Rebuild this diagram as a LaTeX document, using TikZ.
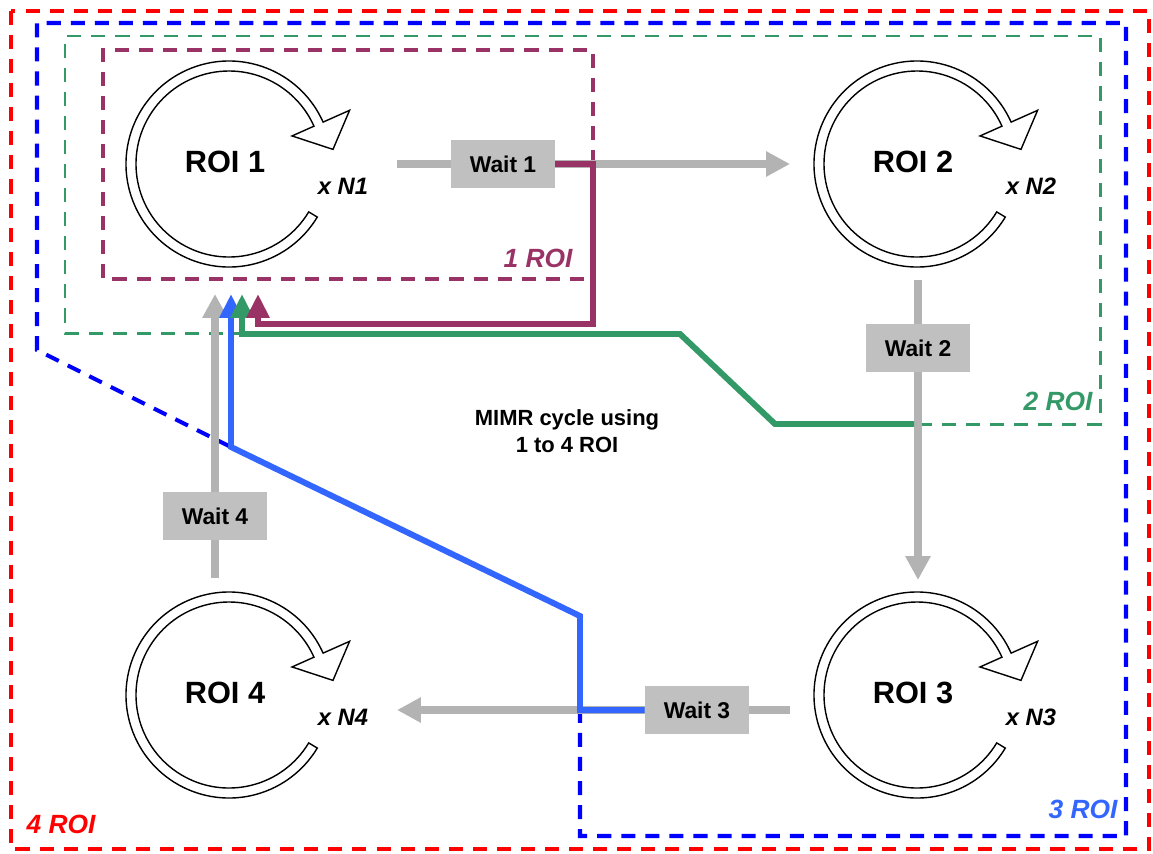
\documentclass[tikz,border=0pt]{standalone}
\usepackage{fontspec}
\setmainfont{Liberation Sans}
\usetikzlibrary{arrows.meta}
\definecolor{roipurple}{HTML}{993366}
\definecolor{roigreen}{HTML}{339966}
\definecolor{roiblue}{HTML}{3366FF}
\definecolor{zoneblue}{HTML}{0000FF}
\definecolor{flowgray}{HTML}{B3B3B3}
\definecolor{boxgray}{HTML}{C0C0C0}
\tikzset{
  roi/.style={font=\fontsize{17.5}{20}\selectfont\bfseries},
  nlabel/.style={font=\fontsize{13.5}{16}\selectfont\bfseries\itshape},
  zlabel/.style={font=\fontsize{15}{18}\selectfont\bfseries\itshape},
  wait/.style={fill=boxgray, minimum width=2.08cm, minimum height=0.96cm,
    inner sep=0pt, font=\fontsize{13}{15}\selectfont\bfseries},
  flow/.style={draw=flowgray, line width=4.5pt, >={Triangle[width=13.6pt,length=13.6pt]}},
  cycle path/.style={line width=3.4pt, >={Triangle[width=12.5pt,length=13.6pt]}},
  zone/.style={line width=#1, dash pattern=on 8pt off 5.7pt},
  roiloop/.pic={
    \draw[line width=0.8pt, fill=white] (31:93) arc[start angle=31, end angle=336, radius=93]
      -- (336:69) -- (352:105) -- (336:132) -- (336:103)
      arc[start angle=336, end angle=31, radius=103] -- cycle;
  }
}

\begin{document}
\begin{tikzpicture}[x=0.02cm, y=-0.02cm]
\useasboundingbox (0,0) rectangle (1153,853);

% zones
\coordinate (j1) at (593,164);
\coordinate (j2) at (918,424);
\coordinate (j3) at (580,710);
\coordinate (j4) at (231,447);
\draw[zone=2.8pt, red] (11,11) rectangle (1149,849);
\draw[zone=2.3pt, zoneblue] (j4) -- (37,350) -- (37,23) -- (1126,23) -- (1126,836) -- (580,836) -- (j3);
\draw[zone=1.7pt, roigreen] (j2) -- (1100,424) -- (1100,36) -- (65,36) -- (65,333) -- (242,333);
\draw[zone=2.5pt, roipurple] (j1) -- (593,50) -- (103,50) -- (103,279) -- (593,279);

% wait boxes
\node[wait] (w1) at (503,164) {Wait 1};
\node[wait] (w2) at (918,348) {Wait 2};
\node[wait] (w3) at (697,710) {Wait 3};
\node[wait] (w4) at (215,516) {Wait 4};

% main cycle
\coordinate (a1) at (397,164); \coordinate (b1) at (790,164);
\coordinate (a2) at (918,280); \coordinate (b2) at (918,580);
\coordinate (a3) at (790,710); \coordinate (b3) at (397,710);
\coordinate (a4) at (215,578); \coordinate (b4) at (215,294);
\foreach \i in {1,...,4} {
  \draw[flow] (a\i) -- (w\i);
  \draw[flow,->] (w\i) -- (b\i);
}

% shortcuts back to ROI 1
\draw[cycle path, roiblue, ->] (w3.west) -- (j3) -- (580,616) -- (j4) -- (231,294);
\draw[cycle path, roigreen, ->] (914,424) -- (775,424) -- (680,334) -- (242,334) -- (242,294);
\draw[cycle path, roipurple, ->] (w1.east) -- (j1) -- (593,324) -- (258,324) -- (258,294);

% ROIs
\foreach \i/\x/\y in {1/229/164, 2/917/164, 3/917/695, 4/229/695} {
  \pic at (\x,\y) {roiloop};
  \node[roi] (roi\i) at (\x-4,\y-2) {ROI \i};
  \node[nlabel] (n\i) at (\x+114,\y+22) {x N\i};
}

\node[font=\fontsize{12.5}{15}\selectfont\bfseries, align=center] (title) at (567,431)
  {MIMR cycle using\\1 to 4 ROI};
\node[zlabel, text=roipurple] (z1) at (538,258) {1 ROI};
\node[zlabel, text=roigreen] (z2) at (1058,401) {2 ROI};
\node[zlabel, text=roiblue] (z3) at (1083,809) {3 ROI};
\node[zlabel, text=red] (z4) at (61,824) {4 ROI};
\end{tikzpicture}
\end{document}
